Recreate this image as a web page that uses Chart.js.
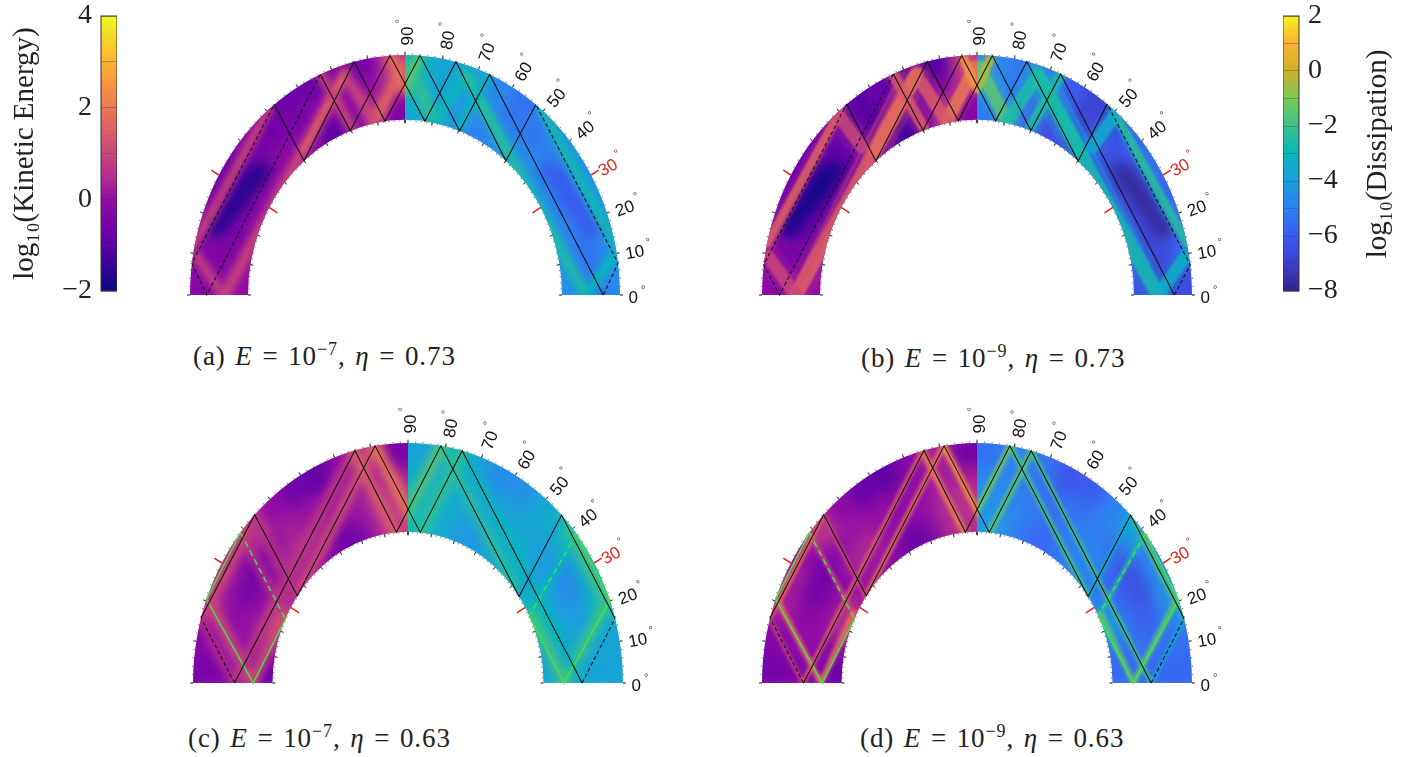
<!DOCTYPE html>
<html>
<head>
<meta charset="utf-8">
<title>Kinetic energy and dissipation</title>
<script src="https://cdn.jsdelivr.net/npm/chart.js@4"></script>
<style>
  html, body { margin: 0; padding: 0; background: #fff; }
  body { position: relative; width: 1408px; height: 757px; overflow: hidden; }
  canvas { position: absolute; }
  .cap { position: absolute; font-family: "Liberation Serif", serif; font-size: 27px; letter-spacing: 0.9px; word-spacing: 2px; white-space: nowrap; color: #222; }
  .cap sup { font-size: 18px; line-height: 0; }
</style>
</head>
<body>
<canvas id="barKe" width="112" height="310" style="left:5px;top:0"></canvas>
<canvas id="barDiss" width="115" height="310" style="left:1283px;top:0"></canvas>
<canvas id="panelA" width="559" height="300" style="left:147px;top:7px"></canvas>
<canvas id="panelB" width="559" height="300" style="left:719px;top:7px"></canvas>
<canvas id="panelC" width="559" height="300" style="left:150px;top:395px"></canvas>
<canvas id="panelD" width="559" height="300" style="left:719px;top:395px"></canvas>
<div class="cap" style="left:193px;top:341px">(a) <i>E</i> = 10<sup>−7</sup>, <i>η</i> = 0.73</div>
<div class="cap" style="left:861px;top:343px">(b) <i>E</i> = 10<sup>−9</sup>, <i>η</i> = 0.73</div>
<div class="cap" style="left:188px;top:723px">(c) <i>E</i> = 10<sup>−7</sup>, <i>η</i> = 0.63</div>
<div class="cap" style="left:860px;top:723px">(d) <i>E</i> = 10<sup>−9</sup>, <i>η</i> = 0.63</div>

<script>
// colour scales, [log10 value, rgb]
const keStops = [[-2,[13,8,135]],[-0.8,[106,0,168]],[0,[147,11,164]],[0.4,[177,42,144]],[1.6,[225,100,98]],[2.8,[252,166,54]],[4,[240,249,33]]];
const dissStops = [[-8,[52,36,138]],[-7,[61,63,208]],[-6,[58,92,240]],[-5,[43,131,240]],[-4,[26,158,222]],[-3,[6,184,184]],[-2,[62,194,138]],[-1,[124,200,85]],[0,[205,177,44]],[1,[251,177,52]],[2,[247,242,26]]];

const labelAngles = [0,10,20,30,40,50,60,70,80,90];
const keBarTicks = [-2,0,2,4];
const dissBarTicks = [-8,-6,-4,-2,0,2];

// cells: rows run inner to outer wall, columns run equator to pole in 7.5 degree steps
const keCellsA = [
  [0.0,-0.2,-0.3,-0.2,-0.1,0.0,0.0,-0.4,-1.0,-0.4,0.2,-0.4],
  [-0.2,-0.4,-0.5,-0.6,-0.4,-0.3,-0.2,-0.4,-0.6,-0.2,0.3,0.0],
  [-0.3,-0.4,-0.6,-1.3,-1.3,-0.6,-0.6,-0.5,-0.4,-0.3,0.0,0.4],
  [-0.2,-0.3,-0.4,-0.6,-0.6,-0.4,-0.7,-0.7,-0.7,-0.5,-0.5,0.6]];
const dissCellsA = [
  [-4.5,-4.5,-4.6,-4.5,-4.5,-4.5,-4.6,-4.8,-5,-4.6,-4,-3.6],
  [-5,-5.2,-5.2,-5.3,-5.0,-4.8,-4.8,-4.8,-4.9,-4.4,-3.8,-3.4],
  [-5.4,-5.4,-5.6,-5.9,-5.8,-5.2,-5.4,-5.3,-4.6,-4.2,-3.8,-3.2],
  [-4.8,-4.6,-4.4,-4.4,-4.4,-4.6,-5.2,-5.4,-4.8,-4.0,-3.8,-3.2]];
const keCellsB = [
  [0.0,-0.2,-0.5,-0.8,-0.6,-0.5,-0.5,-0.8,-1.3,-0.5,0.2,-0.3],
  [-0.2,-0.5,-0.8,-1.0,-1.2,-0.9,-0.7,-0.9,-0.9,-0.5,0.3,0.0],
  [-0.3,-0.5,-0.9,-1.6,-1.6,-1.0,-0.6,-1.0,-0.7,-0.8,-0.3,0.3],
  [-0.1,-0.3,-0.4,-0.6,-0.6,-0.6,-0.8,-1.0,-0.8,-1.0,-1.0,0.6]];
const dissCellsB = [
  [-6.3,-6.0,-5.8,-6.2,-6.6,-6.4,-6.4,-6.6,-6.4,-6,-5,-5.2],
  [-6.6,-6.6,-7,-7,-6.8,-6.4,-6.3,-6.3,-6.2,-5.8,-5.0,-4.6],
  [-6.8,-6.6,-7.2,-7.5,-7.3,-6.4,-6.4,-6.8,-6.0,-5.5,-5.2,-4.5],
  [-6.5,-6.0,-5.6,-5.8,-5.6,-5.8,-6.8,-6.8,-6.0,-5.4,-5.2,-4.8]];
const keCellsC = [
  [-0.7,-0.2,0.6,0.7,0.2,0.2,0.0,-0.2,-0.8,-0.5,0.4,0.6],
  [-0.3,0,0.1,-0.1,-0.2,0.3,0.4,0.2,-0.2,0.1,0.4,0.6],
  [-0.3,0.1,-0.1,-0.6,-0.7,0.0,0.2,0.1,0.0,0.1,0.2,0.4],
  [-0.5,-0.2,0.3,0.2,0.1,0.6,0.0,-0.7,-0.9,-0.1,0.4,-0.5]];
const dissCellsC = [
  [-3.6,-3.8,-3,-3,-3.4,-3.5,-3.6,-3.8,-4.4,-4,-3.4,-3],
  [-3.8,-3.7,-3.9,-4,-4.2,-3.6,-3.5,-3.7,-4,-3.7,-3.4,-3.2],
  [-3.8,-3.6,-4,-4.8,-4.8,-4.1,-3.7,-3.8,-3.9,-3.7,-3.5,-3.4],
  [-3.8,-3.7,-3.1,-3.3,-3.6,-2.8,-3.7,-4.5,-4.7,-3.8,-3.5,-3.8]];
const keCellsD = [
  [-0.8,-0.3,0.5,0.7,0.1,0.1,-0.1,-0.3,-0.9,-0.5,0.4,0.5],
  [-0.4,-0.1,0,-0.2,-0.3,0.3,0.4,0.1,-0.3,0.0,0.4,0.6],
  [-0.4,0,-0.2,-0.7,-0.8,-0.1,0.1,0.0,-0.1,0,0.2,0.3],
  [-0.6,-0.3,0.2,0.2,0,0.6,-0.1,-0.8,-1,-0.2,0.3,-0.6]];
const dissCellsD = [
  [-5.6,-5.6,-3.8,-4.5,-5.2,-5,-5,-5.4,-5.8,-5.4,-4.6,-4.2],
  [-5.7,-5.5,-5.6,-5.8,-6.0,-5.0,-4.8,-5.2,-5.6,-5.2,-4.8,-4.4],
  [-5.7,-5.5,-6,-6.5,-6.5,-5.6,-5.2,-5.4,-5.6,-5.4,-5.0,-4.8],
  [-5.7,-5.5,-4.5,-4.6,-5,-3.8,-5,-6,-6.2,-5.4,-5,-5.4]];

// quiet lens between the beams in the top panels (x, y on the right half)
const lensAB = [[0.66,0.52],[0.88,0.27]];
const lensValuesA = { ke: -1.7, diss: -6.1 };
const lensValuesB = { ke: -2.0, diss: -7.8 };

// beams: straight runs of enhanced energy in the meridional plane (x, y on the right half, mirrored to the left)
const beamsAB = [
  [[0.636,0.771],[0.977,0.215]],
  [[0.279,0.924],[0.837,0.007]],
  [[0.287,0.91],[0.473,0.604]],
  [[0.969,0.16],[0.845,0]],
  [[0.14,0.722],[0.01,0.95]],
  [[0.14,0.722],[0.256,0.882]],
  [[0,0.86],[0.06,0.98]],
  [[0.25,0.70],[0.39,0.92]],
  [[0.637,0.743],[0.537,0.618]],
  [[0.35,0.89],[0.846,0.005]],
  [[0.375,0.89],[0.871,0.005]],
  [[0.62,0.76],[0.962,0.19]]];
const keBeamsA = [0.9,1.0,1.5,0.8,1.6,1.0,1.8,0.9,-0.2,-0.2,-0.2,-0.2];
const dissBeamsA = [-2.8,-2.6,-2.4,-3.0,-2.2,-3.0,-1.6,-3.2,-5,-5,-5,-5];
const keBeamsB = [1.6,1.6,1.7,1.0,2.0,1.4,2.5,1.4,1.0,1.0,1.1,1.1];
const dissBeamsB = [-2.4,-2.7,-2.7,-3.3,-1.5,-2.6,-0.3,-2.6,-3.5,-3.8,-3.8,-3.4];

const beamsCD = [
  [[0.769,0.61],[0.575,0.29]],
  [[0.575,0.29],[0.727,0]],
  [[0.727,0],[0.924,0.339]],
  [[0.924,0.339],[0.769,0.61]],
  [[0.156,0.988],[0.517,0.36]],
  [[0.254,0.967],[0.81,0]],
  [[0.715,0.698],[0.517,0.36]],
  [[0.964,0.266],[0.715,0.698]],
  [[0.964,0.266],[0.81,0]],
  [[0.156,0.988],[-0.053,0.628]],
  [[0.059,0.627],[0.254,0.967]]];
const keBeamsC = [0.6,1.2,1.1,1.4,1.2,0.8,0.6,0.9,0.5,2.0,1.5];
const dissBeamsC = [-3.0,-1.8,-1.9,-1.3,-2.4,-3.0,-3.8,-2.3,-3.8,-1.6,-2.2];
const keBeamsD = [1.1,1.9,1.8,1.9,1.8,1.5,1.0,1.6,0.9,2.4,2.0];
const dissBeamsD = [-2.6,-1.5,-1.5,-1.2,-1.9,-2.0,-3.6,-2.2,-3.6,-1.2,-1.6];

// attractor loops as [colatitude angle from the right equator, radius]
const raysAB_A = [[0,0.922],[7.6,1],[52.5,1],[50,0.73],[76.3,1],[82.7,0.73],[94,1],[110.4,0.73],[113.2,1],[180,0.922],[172.4,1],[127.5,1],[130,0.73],[103.7,1],[97.3,0.73],[86,1],[69.6,0.73],[66.8,1],[0,0.922]];
const raysAB_B = [[0,0.918],[7.2,1],[52.7,1],[49.9,0.73],[76.6,1],[83.2,0.73],[94.1,1],[110.1,0.73],[112.9,1],[180,0.918],[172.8,1],[127.3,1],[130.1,0.73],[103.4,1],[96.8,0.73],[85.9,1],[69.9,0.73],[67.1,1],[0,0.918]];
const dashedAB = [0,1,8,9,10];
const raysCD = [[0,0.81],[15.6,1],[44.4,1],[34.9,0.63],[81.2,1],[94.9,0.63],[104.3,1],[180,0.807],[164.3,1],[135.5,1],[144.8,0.63],[98.8,1],[84.8,0.63],[75.4,1],[0,0.81]];
const dashedCD = [0,7];
const greenRight = [[38.4,1],[26.4,0.63],[0,0.727],[20.2,1],[38.4,1]];
const greenLeft = [[141.2,1],[154.9,0.63],[180,0.72],[159.6,1],[141.2,1]];

function colorFor(stops, v, alpha) {
  let i = 0;
  while (i < stops.length - 2 && v > stops[i + 1][0]) i++;
  const a = stops[i], b = stops[i + 1];
  const t = Math.max(0, Math.min(1, (v - a[0]) / (b[0] - a[0])));
  const c = a[1].map((n, k) => Math.round(n + (b[1][k] - n) * t));
  return `rgba(${c[0]},${c[1]},${c[2]},${alpha === undefined ? 1 : alpha})`;
}

function polar(deg, r) {
  const a = deg * Math.PI / 180;
  return { x: r * Math.cos(a), y: r * Math.sin(a) };
}

function annulusClip(c, chart, eta, side) {
  const X = chart.scales.x, Y = chart.scales.y;
  const cx = X.getPixelForValue(0), cy = Y.getPixelForValue(0);
  const rx = X.getPixelForValue(1) - cx, ry = cy - Y.getPixelForValue(1);
  c.beginPath();
  if (side > 0) {
    c.ellipse(cx, cy, rx, ry, 0, 0, -Math.PI / 2, true);
    c.ellipse(cx, cy, rx * eta, ry * eta, 0, -Math.PI / 2, 0, false);
  } else {
    c.ellipse(cx, cy, rx, ry, 0, Math.PI, 1.5 * Math.PI, false);
    c.ellipse(cx, cy, rx * eta, ry * eta, 0, 1.5 * Math.PI, Math.PI, true);
  }
  c.closePath();
  c.clip();
}

// softens the field layers and clips them to the shell, the rays stay sharp
const shellLayers = {
  id: 'shellLayers',
  beforeDraw(chart) { chart.$comp = null; },
  afterDatasetDraw(chart, args) {
    const f = chart.data.datasets[args.index].flush;
    if (!f) return;
    const { canvas, ctx } = chart;
    const snap = document.createElement('canvas');
    snap.width = canvas.width; snap.height = canvas.height;
    snap.getContext('2d').drawImage(canvas, 0, 0);
    ctx.clearRect(0, 0, canvas.width, canvas.height);
    if (!chart.$comp) {
      chart.$comp = document.createElement('canvas');
      chart.$comp.width = canvas.width; chart.$comp.height = canvas.height;
    }
    const c = chart.$comp.getContext('2d');
    c.save();
    annulusClip(c, chart, f.eta, f.side);
    c.filter = `blur(${f.blur}px)`;
    c.drawImage(snap, 0, 0);
    c.restore();
    if (f.last) ctx.drawImage(chart.$comp, 0, 0);
  }
};

const angleLabels = {
  id: 'angleLabels',
  afterDatasetsDraw(chart) {
    const ctx = chart.ctx, X = chart.scales.x, Y = chart.scales.y;
    labelAngles.forEach(a => {
      const p = polar(a, 1.04);
      const red = a === 30;
      ctx.save();
      ctx.translate(X.getPixelForValue(p.x), Y.getPixelForValue(p.y));
      ctx.rotate(-a * Math.PI / 180);
      ctx.fillStyle = red ? '#e0241c' : '#111';
      ctx.font = '17px "Liberation Sans"';
      ctx.textBaseline = 'middle';
      ctx.fillText(String(a), 0, 3);
      const w = ctx.measureText(String(a)).width;
      ctx.fillStyle = red ? '#e0241c' : '#444';
      ctx.font = '11px "Liberation Sans"';
      ctx.fillText('°', w + 3, -5);
      ctx.restore();
    });
  }
};

function ringDataset(r, values, side, stops, width) {
  const pts = [], colors = [];
  for (let d = -15, i = 0; d <= 105; d += 7.5, i++) {
    const p = polar(d, r);
    pts.push({ x: side * p.x, y: p.y });
    colors.push(colorFor(stops, values[Math.max(0, Math.min(11, i - 2))]));
  }
  return {
    data: pts, showLine: true, pointRadius: 0, borderWidth: width, borderColor: colors[0],
    segment: { borderColor: c => colors[c.p0DataIndex] }
  };
}

function fieldLayers(cfg, side, stops, cells, beamVals, lensVal) {
  const out = [], eta = cfg.eta, dr = (1 - eta) / 4;
  const width = dr * 240 + 3;
  const rows = [cells[0], ...cells, cells[3]];
  rows.forEach((row, i) => out.push(ringDataset(eta + dr * (i - 0.5), row, side, stops, width)));
  if (cfg.lens) {
    out.push({ data: cfg.lens.map(p => ({ x: side * p[0], y: p[1] })), showLine: true, pointRadius: 0,
      borderCapStyle: 'round', borderWidth: 16, borderColor: colorFor(stops, lensVal, 0.9) });
  }
  out[out.length - 1].flush = { side, eta, blur: cfg.cellBlur };
  cfg.beams.forEach((b, i) => {
    const data = b.map(p => ({ x: side * p[0], y: p[1] }));
    out.push({ data, showLine: true, pointRadius: 0, borderCapStyle: 'round',
      borderWidth: cfg.beamWidths[i] * 2, borderColor: colorFor(stops, beamVals[i], cfg.haloAlpha) });
  });
  cfg.beams.forEach((b, i) => {
    const data = b.map(p => ({ x: side * p[0], y: p[1] }));
    out.push({ data, showLine: true, pointRadius: 0, borderCapStyle: 'round',
      borderWidth: cfg.beamWidths[i], borderColor: colorFor(stops, beamVals[i], 0.85) });
  });
  out[out.length - 1].flush = { side, eta, blur: cfg.beamBlur };
  return out;
}

function rayDataset(verts, dashed, color, dash, width) {
  return {
    data: verts.map(v => polar(v[0], v[1])), showLine: true, pointRadius: 0,
    borderWidth: width, borderColor: color,
    segment: { borderDash: c => dashed.includes(c.p0DataIndex) ? dash : undefined }
  };
}

function tickDatasets(eta) {
  const minor = [], major = [], red = [];
  for (let d = 0; d <= 180; d += 2) { minor.push(polar(d, 1.004)); minor.push(polar(d, eta - 0.004)); }
  for (let d = 0; d <= 180; d += 10) {
    if (d === 30 || d === 150) continue;
    major.push(polar(d, 1), polar(d, 1.014), { x: null, y: null });
    major.push(polar(d, eta), polar(d, eta - 0.014), { x: null, y: null });
  }
  [30, 150].forEach(d => {
    red.push(polar(d, 1), polar(d, 1.04), { x: null, y: null });
    red.push(polar(d, eta), polar(d, eta - 0.045), { x: null, y: null });
  });
  return [
    { data: minor, pointRadius: 0.7, pointBackgroundColor: '#888', pointBorderWidth: 0 },
    { data: major, showLine: true, pointRadius: 0, borderWidth: 1, borderColor: '#333' },
    { data: red, showLine: true, pointRadius: 0, borderWidth: 1.5, borderColor: '#e0241c' }
  ];
}

function makePanel(id, cfg) {
  const lv = cfg.lensValues || {};
  const left = fieldLayers(cfg, -1, keStops, cfg.keCells, cfg.keBeams, lv.ke);
  const right = fieldLayers(cfg, 1, dissStops, cfg.dissCells, cfg.dissBeams, lv.diss);
  right[right.length - 1].flush.last = true;
  const rays = [rayDataset(cfg.rays, cfg.dashed, '#151515', [4, 2.5], 1.1)];
  if (cfg.green) {
    rays.unshift(rayDataset(greenRight, cfg.greenDash, cfg.green, [6, 4], 1.6));
    rays.unshift(rayDataset(greenLeft, cfg.greenDash, cfg.green, [6, 4], 1.6));
  }
  const datasets = [...left, ...right, ...rays, ...tickDatasets(cfg.eta)];
  datasets.forEach((d, i) => { d.order = datasets.length - i; });
  new Chart(document.getElementById(id), {
    type: 'scatter',
    data: { datasets },
    plugins: [shellLayers, angleLabels],
    options: {
      responsive: false, animation: false, events: [],
      layout: { padding: 0, autoPadding: false },
      plugins: { legend: { display: false }, tooltip: { enabled: false } },
      scales: {
        x: { type: 'linear', display: false, min: -1.2, max: 1.4 },
        y: { type: 'linear', display: false, min: -0.05, max: 1.2 }
      }
    }
  });
}

const barBorder = {
  id: 'barBorder',
  afterDraw(chart) {
    const a = chart.chartArea, ctx = chart.ctx;
    ctx.save();
    ctx.strokeStyle = '#333'; ctx.lineWidth = 1;
    ctx.strokeRect(a.left, a.top, a.right - a.left, a.bottom - a.top);
    const t = chart.options.sideTitle;
    if (t) {
      ctx.translate(t.x, t.y);
      ctx.rotate(-Math.PI / 2);
      ctx.fillStyle = '#222';
      ctx.font = '29px "Liberation Serif"';
      ctx.textAlign = 'center';
      ctx.textBaseline = 'middle';
      ctx.fillText(t.text, 0, 0);
    }
    ctx.restore();
  }
};

function makeBar(id, stops, min, max, ticks, title, position, axisWidth, sideTitle) {
  const datasets = [];
  for (let v = min; v < max - 1e-6; v += 0.1) {
    datasets.push({ data: [[v, v + 0.11]], backgroundColor: colorFor(stops, v + 0.05), barPercentage: 1, categoryPercentage: 1 });
  }
  new Chart(document.getElementById(id), {
    type: 'bar',
    data: { labels: [''], datasets },
    plugins: [barBorder],
    options: {
      responsive: false, animation: false, events: [], sideTitle,
      layout: { padding: { top: 16, bottom: 19 }, autoPadding: false },
      plugins: { legend: { display: false }, tooltip: { enabled: false } },
      scales: {
        x: { display: false, stacked: true },
        y: {
          position, min, max,
          afterFit(s) { s.width = axisWidth; s.paddingTop = 0; s.paddingBottom = 0; },
          border: { display: false },
          grid: { z: 1, color: 'rgba(70,70,70,0.35)', drawTicks: false },
          ticks: {
            stepSize: 1, autoSkip: false, padding: 9, color: '#222',
            font: { family: 'Liberation Serif', size: 28 },
            callback: v => ticks.includes(v) ? String(v).replace('-', '\u2212') : ''
          },
          title: {
            display: !!title, text: title, color: '#222', padding: { top: 3, bottom: 0 },
            font: { family: 'Liberation Serif', size: 29 }
          }
        }
      }
    }
  });
}

makeBar('barKe', keStops, -2, 4, keBarTicks, 'log\u2081\u2080(Kinetic Energy)', 'left', 96);
makeBar('barDiss', dissStops, -8, 2, dissBarTicks, '', 'right', 99, { text: 'log\u2081\u2080(Dissipation)', x: 95, y: 154 });

makePanel('panelA', { eta: 0.73, keCells: keCellsA, dissCells: dissCellsA, lens: lensAB, lensValues: lensValuesA, beams: beamsAB, keBeams: keBeamsA, dissBeams: dissBeamsA,
  beamWidths: [8,10,6,9,11,9,10,9,0.5,0.5,0.5,0.5], rays: raysAB_A, dashed: dashedAB, cellBlur: 6, beamBlur: 2.5, haloAlpha: 0.25 });
makePanel('panelB', { eta: 0.73, keCells: keCellsB, dissCells: dissCellsB, lens: lensAB, lensValues: lensValuesB, beams: beamsAB, keBeams: keBeamsB, dissBeams: dissBeamsB,
  beamWidths: [8,14,14,13,13,13,9,11,13,1.2,1.2,1.2], rays: raysAB_B, dashed: dashedAB, cellBlur: 6, beamBlur: 0.8, haloAlpha: 0.12 });
makePanel('panelC', { eta: 0.63, keCells: keCellsC, dissCells: dissCellsC, beams: beamsCD, keBeams: keBeamsC, dissBeams: dissBeamsC,
  beamWidths: [6,8,8,8,8,7,7,6,6,9,9], rays: raysCD, dashed: dashedCD, green: 'rgba(70,225,70,0.9)', greenDash: [0], cellBlur: 8, beamBlur: 3.5, haloAlpha: 0.35 });
makePanel('panelD', { eta: 0.63, keCells: keCellsD, dissCells: dissCellsD, beams: beamsCD, keBeams: keBeamsD, dissBeams: dissBeamsD,
  beamWidths: [3,4,4,4,4,3.5,3,3,3,5,5], rays: raysCD, dashed: dashedCD, green: 'rgba(70,225,70,0.95)', greenDash: [0], cellBlur: 8, beamBlur: 1.8, haloAlpha: 0.35 });
</script>
</body>
</html>
